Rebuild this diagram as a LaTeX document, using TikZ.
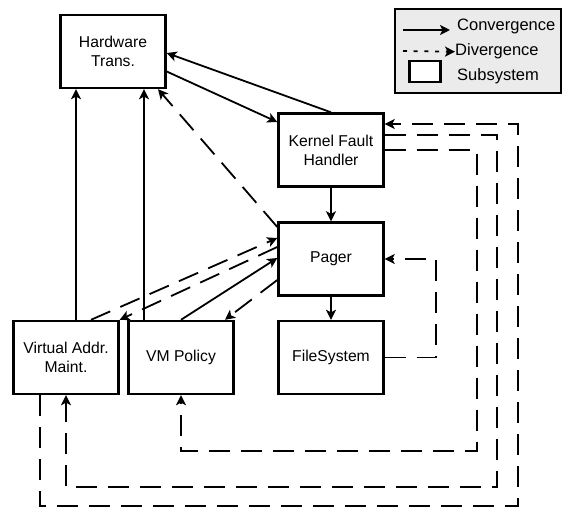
\documentclass[tikz,border=0pt]{standalone}
\usepackage{fontspec}
\setmainfont{Liberation Sans}
\usetikzlibrary{arrows.meta}

\tikzset{
  subsys/.style={draw, line width=2.4pt, fill=white, minimum width=105pt, minimum height=73pt,
    inner sep=0pt, align=center, font=\fontsize{15.7}{19}\selectfont},
  conv/.style={line width=1.8pt, -{Stealth[length=10pt, width=10pt, inset=2.5pt]}},
  div/.style={conv, dash pattern=on 21pt off 11pt},
  legendtext/.style={inner sep=0pt, anchor=base west, font=\fontsize{16.5}{19}\selectfont},
}

\begin{document}
\begin{tikzpicture}[x=1pt, y=-1pt]
\useasboundingbox (0,0) rectangle (563,508);
\node[subsys] (ht) at (113,51.5) {Hardware\\Trans.};
\node[subsys] (kfh) at (331,150) {Kernel Fault\\Handler};
\node[subsys] (pager) at (331,259) {Pager};
\node[subsys] (fs) at (331,357.5) {FileSystem};
\node[subsys] (vam) at (66,357.5) {Virtual Addr.\\Maint.};
\node[subsys] (vmp) at (181,357.5) {VM Policy};
\draw[conv] (kfh.north) -- ([yshift=-1.5pt]ht.east);
\draw[conv] ([yshift=-20pt]ht.east) -- ([yshift=28pt]kfh.west);
\draw[conv] (kfh.south) -- (pager.north);
\draw[conv] (pager.south) -- (fs.north);
\draw[conv] ([xshift=10pt]vam.north) -- ([xshift=-37pt]ht.south);
\draw[conv] ([xshift=-37pt]vmp.north) -- ([xshift=31pt]ht.south);
\draw[conv] (vmp.north) -- ([yshift=1pt]pager.west);
\draw[div] ([yshift=32pt]pager.west) -- ([xshift=45pt]ht.south);
\draw[div] ([xshift=25pt]vam.north) -- ([yshift=21pt]pager.west);
\draw[div] ([yshift=12pt]pager.west) -- (vam.north east);
\draw[div] ([yshift=-21pt]pager.west) -- ([xshift=44pt]vmp.north);
\draw[div] (fs.east) -| (436,259) -- (pager.east);
\draw[div] (kfh.east) -| (477,451) -| (vmp.south);
\draw[div] ([yshift=15pt]kfh.east) -| (497,487) -| (vam.south);
\draw[div] ([xshift=-26pt]vam.south) |- (518,506) |- ([yshift=26pt]kfh.east);
\node[draw, line width=2pt, fill=black!8, minimum width=166pt, minimum height=84pt, inner sep=0pt] (legend) at (478,51) {};
\node[legendtext] (convlabel) at (457,30.5) {Convergence};
\node[legendtext] (divlabel) at (455,56) {Divergence};
\node[legendtext] (subslabel) at (457,81) {Subsystem};
\coordinate (convstart) at (403,30);
\coordinate (divstart) at (403,51);
\draw[conv] (convstart) -- (450,30);
\draw[conv, dash pattern=on 4pt off 6.7pt] (divstart) -- (divlabel.west);
\node[draw, line width=2.2pt, fill=white, minimum width=31pt, minimum height=21pt, inner sep=0pt] (subsample) at (425,71.5) {};
\end{tikzpicture}
\end{document}
